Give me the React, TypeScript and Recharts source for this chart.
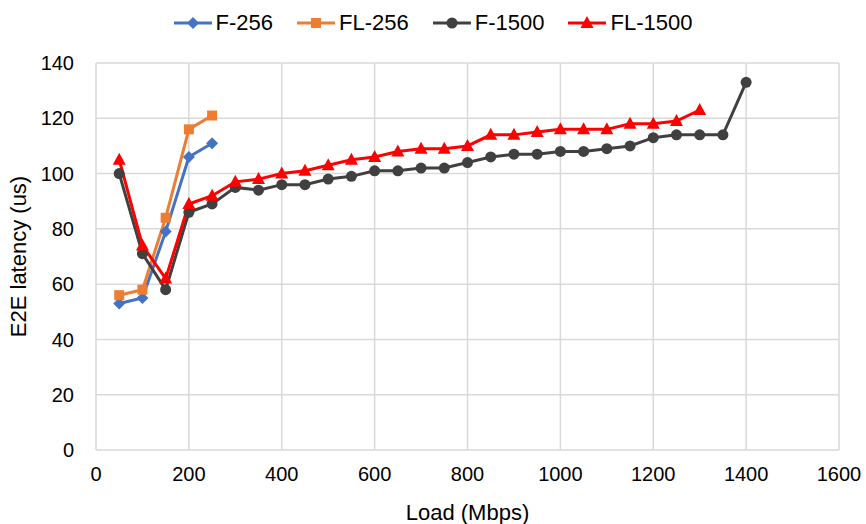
import React from 'react';
import { LineChart, Line, XAxis, YAxis, CartesianGrid, Legend } from 'recharts';

const loads256 = [50, 100, 150, 200, 250];
const f256 = [53, 55, 79, 106, 111];
const fl256 = [56, 58, 84, 116, 121];

const loads1500 = [
  50, 100, 150, 200, 250, 300, 350, 400, 450, 500, 550, 600, 650, 700,
  750, 800, 850, 900, 950, 1000, 1050, 1100, 1150, 1200, 1250, 1300, 1350, 1400,
];
const f1500 = [
  100, 71, 58, 86, 89, 95, 94, 96, 96, 98, 99, 101, 101, 102,
  102, 104, 106, 107, 107, 108, 108, 109, 110, 113, 114, 114, 114, 133,
];
const fl1500 = [
  105, 74, 62, 89, 92, 97, 98, 100, 101, 103, 105, 106, 108, 109,
  109, 110, 114, 114, 115, 116, 116, 116, 118, 118, 119, 123,
];

const xTicks = [0, 200, 400, 600, 800, 1000, 1200, 1400, 1600];
const yTicks = [0, 20, 40, 60, 80, 100, 120, 140];

const FONT = '"Liberation Sans", Arial, sans-serif';

type Shape = 'diamond' | 'square' | 'circle' | 'triangle';

const toPoints = (xs: number[], ys: number[]) => ys.map((y, i) => ({ load: xs[i], latency: y }));

const seriesList = [
  { name: 'F-256', color: '#4472C4', shape: 'diamond' as Shape, data: toPoints(loads256, f256) },
  { name: 'FL-256', color: '#ED7D31', shape: 'square' as Shape, data: toPoints(loads256, fl256) },
  { name: 'F-1500', color: '#404040', shape: 'circle' as Shape, data: toPoints(loads1500, f1500) },
  { name: 'FL-1500', color: '#FF0000', shape: 'triangle' as Shape, data: toPoints(loads1500, fl1500) },
];

function Marker({ shape, cx, cy, color }: { shape: Shape; cx: number; cy: number; color: string }) {
  if (shape === 'diamond') {
    return <path d={`M${cx},${cy - 6}L${cx + 6},${cy}L${cx},${cy + 6}L${cx - 6},${cy}Z`} fill={color} />;
  }
  if (shape === 'square') {
    return <rect x={cx - 5} y={cy - 5} width={10} height={10} fill={color} />;
  }
  if (shape === 'circle') {
    return <circle cx={cx} cy={cy} r={5.5} fill={color} />;
  }
  return <path d={`M${cx},${cy - 7}L${cx + 6.5},${cy + 5}L${cx - 6.5},${cy + 5}Z`} fill={color} />;
}

const makeDot = (shape: Shape, color: string) => (props: any) => {
  const { cx, cy, index } = props;
  if (cx == null || cy == null) return <g key={index} />;
  return (
    <g key={index}>
      <Marker shape={shape} cx={cx} cy={cy} color={color} />
    </g>
  );
};

const LegendContent = () => (
  <div
    style={{
      display: 'flex',
      justifyContent: 'center',
      alignItems: 'center',
      fontFamily: FONT,
      fontSize: 22,
      color: '#000',
      height: 30,
    }}
  >
    {seriesList.map(s => (
      <div key={s.name} style={{ display: 'flex', alignItems: 'center', margin: '0 12px' }}>
        <svg width={38} height={16} style={{ marginRight: 4 }}>
          <line x1={0} y1={8} x2={38} y2={8} stroke={s.color} strokeWidth={3} />
          <Marker shape={s.shape} cx={19} cy={8} color={s.color} />
        </svg>
        <span>{s.name}</span>
      </div>
    ))}
  </div>
);

const YTitle = (props: any) => {
  const { viewBox } = props;
  const cy = viewBox.y + viewBox.height / 2;
  return (
    <text
      x={18}
      y={cy}
      transform={`rotate(-90, 18, ${cy})`}
      textAnchor="middle"
      dominantBaseline="central"
      fontFamily={FONT}
      fontSize={22}
      fill="#000"
    >
      E2E latency (us)
    </text>
  );
};

const XTitle = (props: any) => {
  const { viewBox } = props;
  return (
    <text
      x={viewBox.x + viewBox.width / 2}
      y={512}
      textAnchor="middle"
      dominantBaseline="central"
      fontFamily={FONT}
      fontSize={22}
      fill="#000"
    >
      Load (Mbps)
    </text>
  );
};

export default function App() {
  return (
    <div style={{ position: 'absolute', left: 0, top: 0, width: 866, height: 524, background: '#fff' }}>
      <LineChart width={866} height={524} margin={{ top: 8, right: 27, bottom: 0, left: 0 }}>
        <CartesianGrid stroke="#D9D9D9" strokeWidth={1.5} />
        <XAxis
          type="number"
          dataKey="load"
          domain={[0, 1600]}
          ticks={xTicks}
          interval={0}
          height={74}
          axisLine={false}
          tickLine={false}
          tickSize={0}
          tickMargin={17}
          tick={{ fill: '#000', fontSize: 20, fontFamily: FONT }}
          label={<XTitle />}
          allowDuplicatedCategory={false}
        />
        <YAxis
          type="number"
          dataKey="latency"
          domain={[0, 140]}
          ticks={yTicks}
          interval={0}
          width={96}
          axisLine={false}
          tickLine={false}
          tickSize={0}
          tickMargin={22}
          tick={{ fill: '#000', fontSize: 20, fontFamily: FONT }}
          label={<YTitle />}
        />
        <Legend
          verticalAlign="top"
          height={55}
          wrapperStyle={{ left: 0, width: 866 }}
          content={<LegendContent />}
        />
        {seriesList.map(s => (
          <Line
            key={s.name}
            data={s.data}
            dataKey="latency"
            name={s.name}
            stroke={s.color}
            strokeWidth={3}
            dot={makeDot(s.shape, s.color)}
            activeDot={false}
            isAnimationActive={false}
            type="linear"
          />
        ))}
      </LineChart>
    </div>
  );
}
